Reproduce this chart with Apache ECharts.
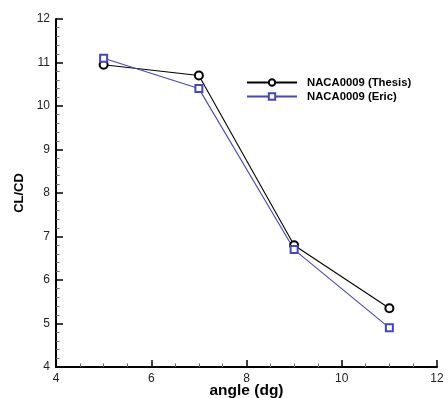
<!DOCTYPE html>
<html><head><meta charset="utf-8">
<script src="https://cdn.jsdelivr.net/npm/echarts@6/dist/echarts.min.js"></script>
<style>html,body{margin:0;padding:0;background:#fff}#c{width:448px;height:398px}</style>
</head><body><div id="c"></div>
<script>
const angles = [5, 7, 9, 11];
const thesis = [10.95, 10.7, 6.8, 5.35];
const eric = [11.1, 10.4, 6.7, 4.9];
const seriesNames = ['NACA0009 (Thesis)', 'NACA0009 (Eric)'];
const xTicks = [4, 6, 8, 10, 12];
const yTicks = [4, 5, 6, 7, 8, 9, 10, 11, 12];

const chart = echarts.init(document.getElementById('c'));
const font = '"Liberation Sans", Arial, sans-serif';
function axisCommon() {
  return {
    axisLine: {show: true, onZero: false, lineStyle: {color: '#000', width: 2}},
    axisTick: {show: true, inside: true, length: 7, lineStyle: {color: '#000', width: 1.5}},
    splitLine: {show: false},
    axisLabel: {color: '#222', fontSize: 12, fontFamily: font, margin: 6},
    nameTextStyle: {color: '#000', fontSize: 13, fontWeight: 'bold', fontFamily: font}
  };
}
chart.setOption({
  animation: false,
  grid: {left: 56, right: 11, top: 19, bottom: 31, containLabel: false, outerBoundsMode: 'none'},
  legend: {
    orient: 'vertical', left: 241, top: 72, itemWidth: 50, itemHeight: 8, itemGap: 3,
    textStyle: {fontSize: 11.3, fontWeight: 'bold', color: '#000', fontFamily: font, padding: [0, 0, 0, 5]},
    data: seriesNames
  },
  xAxis: Object.assign(axisCommon(), {
    type: 'value', min: xTicks[0], max: xTicks[xTicks.length - 1], interval: 2,
    name: 'angle (dg)', nameLocation: 'middle', nameGap: 16, nameMoveOverlap: false,
    nameTextStyle: {color: '#000', fontSize: 15.5, fontWeight: 'bold', fontFamily: font},
    minorTick: {show: true, splitNumber: 4, length: 3.5, lineStyle: {color: '#666', width: 1}}
  }),
  yAxis: Object.assign(axisCommon(), {
    type: 'value', min: yTicks[0], max: yTicks[yTicks.length - 1], interval: 1,
    name: 'CL/CD', nameLocation: 'middle', nameGap: 23,
    minorTick: {show: true, splitNumber: 5, length: 3.5, lineStyle: {color: '#666', width: 1}}
  }),
  series: [
    {name: seriesNames[0], type: 'line', data: angles.map((a, i) => [a, thesis[i]]),
     symbol: 'emptyCircle', symbolSize: 8, lineStyle: {color: '#000', width: 1.1},
     itemStyle: {color: '#000', borderWidth: 1.3}},
    {name: seriesNames[1], type: 'line', data: angles.map((a, i) => [a, eric[i]]),
     symbol: 'emptyRect', symbolSize: 7, lineStyle: {color: '#4646c0', width: 1.1},
     itemStyle: {color: '#4646c0', borderWidth: 1.3}}
  ]
});
</script></body></html>
